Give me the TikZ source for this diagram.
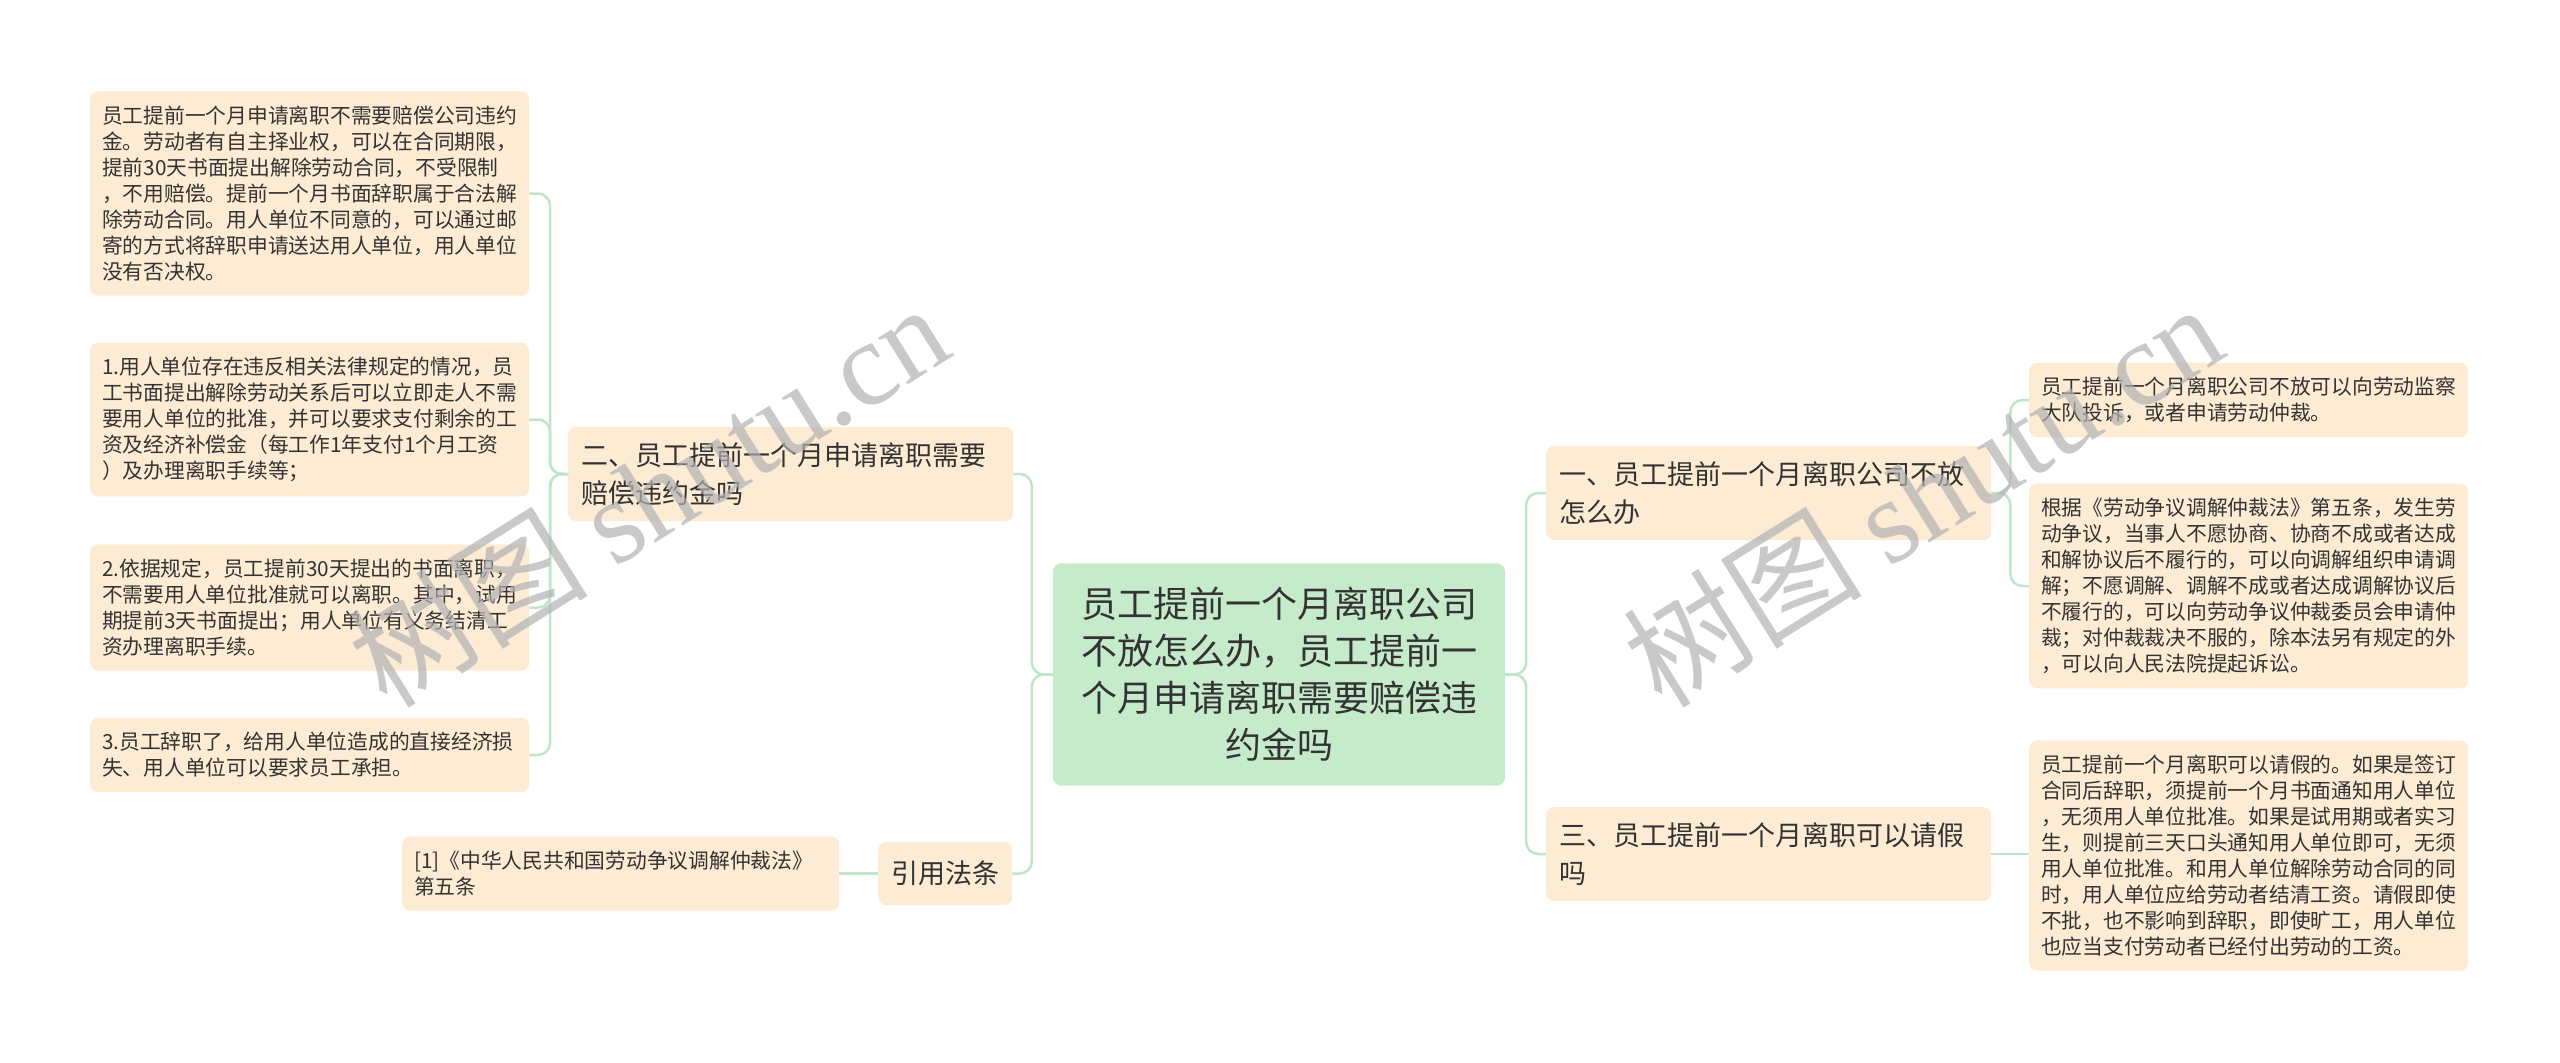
\documentclass[tikz,border=0pt]{standalone}
\usepackage{fontspec}
\setmainfont{Noto Sans CJK SC}
\newfontfamily\wmfont{Liberation Serif}
\usepackage{tikz}

\definecolor{leafbg}{HTML}{FDEBD4}
\definecolor{rootbg}{HTML}{C6EBCB}
\definecolor{linkc}{HTML}{BFE6C8}
\definecolor{txt}{HTML}{333333}

\begin{document}
\begin{tikzpicture}[x=1pt,y=-1pt,
  every node/.style={text=txt},
  leaf/.style={fill=leafbg, rounded corners=8pt, anchor=west, text width=415pt, align=left,
    inner xsep=12pt, inner ysep=14.5pt, font=\fontsize{20.75}{26}\selectfont},
  topic/.style={fill=leafbg, rounded corners=8pt, anchor=west, text width=419pt, align=left,
    inner xsep=13pt, inner ysep=15.5pt, font=\fontsize{27}{38}\selectfont},
  link/.style={draw=linkc, line width=2.5pt, rounded corners=12pt},
  wmark/.style={text=black!30, opacity=0.7, rotate=32, font=\fontsize{120}{120}\selectfont}]
\useasboundingbox (0,0) rectangle (2560,1063);

\node[fill=rootbg, rounded corners=8pt, text width=420pt, align=center, inner xsep=16pt,
  inner ysep=24pt, font=\fontsize{36}{47}\selectfont] (root) at (1279,674.5)
  {员工提前一个月离职公司\\不放怎么办，员工提前一\\个月申请离职需要赔偿违\\约金吗};

\node[topic] (two) at (568,474) {二、员工提前一个月申请离职需要\\赔偿违约金吗};
\node[topic, text width=, minimum width=134pt, minimum height=63pt, inner xsep=0pt,
  inner ysep=0pt, align=center] (ref) at (878,873.5) {引用法条};
\node[topic] (one) at (1546,493) {一、员工提前一个月离职公司不放\\怎么办};
\node[topic] (three) at (1546,854) {三、员工提前一个月离职可以请假\\吗};

\node[leaf] (l1) at (90,193.5) {员工提前一个月申请离职不需要赔偿公司违约\\金。劳动者有自主择业权，可以在合同期限，\\提前30天书面提出解除劳动合同，不受限制\\，不用赔偿。提前一个月书面辞职属于合法解\\除劳动合同。用人单位不同意的，可以通过邮\\寄的方式将辞职申请送达用人单位，用人单位\\没有否决权。};
\node[leaf] (l2) at (90,419.5) {1.用人单位存在违反相关法律规定的情况，员\\工书面提出解除劳动关系后可以立即走人不需\\要用人单位的批准，并可以要求支付剩余的工\\资及经济补偿金（每工作1年支付1个月工资\\）及办理离职手续等；};
\node[leaf] (l3) at (90,607.5) {2.依据规定，员工提前30天提出的书面离职，\\不需要用人单位批准就可以离职。其中，试用\\期提前3天书面提出；用人单位有义务结清工\\资办理离职手续。};
\node[leaf] (l4) at (90,755) {3.员工辞职了，给用人单位造成的直接经济损\\失、用人单位可以要求员工承担。};
\node[leaf, text width=413pt] (note) at (402,873.5) {[1]《中华人民共和国劳动争议调解仲裁法》\\第五条};

\node[leaf] (r1) at (2029,400) {员工提前一个月离职公司不放可以向劳动监察\\大队投诉，或者申请劳动仲裁。};
\node[leaf] (r2) at (2029,586) {根据《劳动争议调解仲裁法》第五条，发生劳\\动争议，当事人不愿协商、协商不成或者达成\\和解协议后不履行的，可以向调解组织申请调\\解；不愿调解、调解不成或者达成调解协议后\\不履行的，可以向劳动争议仲裁委员会申请仲\\裁；对仲裁裁决不服的，除本法另有规定的外\\，可以向人民法院提起诉讼。};
\node[leaf] (r3) at (2029,855.5) {员工提前一个月离职可以请假的。如果是签订\\合同后辞职，须提前一个月书面通知用人单位\\，无须用人单位批准。如果是试用期或者实习\\生，则提前三天口头通知用人单位即可，无须\\用人单位批准。和用人单位解除劳动合同的同\\时，用人单位应给劳动者结清工资。请假即使\\不批，也不影响到辞职，即使旷工，用人单位\\也应当支付劳动者已经付出劳动的工资。};

\foreach \n in {two,ref}
    \draw[link] (root.west) -- ++(-21,0) |- (\n.east);
\foreach \n in {one,three}
    \draw[link] (root.east) -- ++(21,0) |- (\n.west);
\foreach \n in {l1,l2,l3,l4}
    \draw[link] (two.west) -- ++(-18,0) |- (\n.east);
\foreach \n in {r1,r2}
    \draw[link] (one.east) -- ++(19,0) |- (\n.west);
\draw[link] (three.east) -- (three.east -| r3.west);
\draw[link] (ref.west) -- (note.east);

\node[wmark] (wm1) at (648,494) {树图 {\wmfont shutu.cn}};
\node[wmark] (wm2) at (1922,494) {树图 {\wmfont shutu.cn}};
\end{tikzpicture}
\end{document}
